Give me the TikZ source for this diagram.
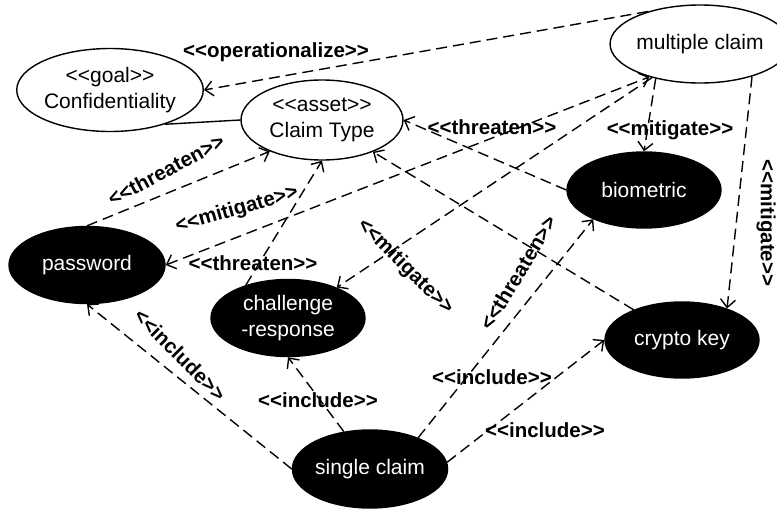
\documentclass[tikz,border=0pt]{standalone}
\usepackage{fontspec}
\setmainfont{Liberation Sans}
\usetikzlibrary{shapes.geometric,arrows.meta}
\newcommand\nodefont{\fontsize{21}{26}\selectfont}
\newcommand\lblfont{\bfseries\fontsize{20.5}{24}\selectfont}
\newcommand\lguil{<{}<}
\newcommand\rguil{>{}>}
\tikzset{vtip/.tip={Straight Barb[length=8pt,width=15pt,line width=1.4pt]}}
\begin{document}
\begin{tikzpicture}[x=1pt,y=-1pt,
  uc/.style={ellipse, draw, line width=1.4pt, inner sep=0pt, align=center, font=\nodefont},
  ucw/.style={uc, fill=white},
  ucb/.style={uc, fill=black, text=white},
  dep/.style={line width=1.4pt, dash pattern=on 11pt off 6pt, -{vtip}},
  depboth/.style={line width=1.4pt, dash pattern=on 11pt off 6pt, {vtip}-{vtip}},
  assoc/.style={line width=1.4pt},
  lbl/.style={font=\lblfont, inner sep=0pt}
]
\useasboundingbox (0,0) rectangle (777,509);

% use cases
\node[ucw, minimum width=166pt, minimum height=83pt] (conf) at (110,90) {\lguil goal\rguil\\Confidentiality};
\node[ucw, minimum width=162pt, minimum height=80pt] (ctype) at (322,120) {\lguil asset\rguil\\Claim Type};
\node[ucw, minimum width=156pt, minimum height=78pt] (mclaim) at (700,44) {multiple claim};
\node[ucb, minimum width=154pt, minimum height=76pt] (bio) at (644,190) {biometric};
\node[ucb, minimum width=156pt, minimum height=77pt] (pwd) at (87,265) {password};
\node[ucb, minimum width=154pt, minimum height=77pt] (chal) at (288,318) {challenge\\-response};
\node[ucb, minimum width=155pt, minimum height=78pt] (single) at (370,469) {single claim};
\node[ucb, minimum width=154pt, minimum height=76pt] (crypto) at (682,340) {crypto key};

% relations
\draw[dep] (mclaim.148) -- (conf.0);
\draw[assoc] (conf.-32) -- (ctype.180);
\draw[dep] (pwd.90) -- (ctype.211);
\draw[depboth] (pwd.0) -- (mclaim.213);
\draw[dep] (chal.142) -- (ctype.270);
\draw[dep] (bio.180) -- (ctype.0);
\draw[dep] (mclaim.218) -- (bio.90);
\draw[dep] (mclaim.328) -- (crypto.35);
\draw[dep] (crypto.148) -- (ctype.-32);
\draw[dep] (mclaim.215) -- (chal.32);
\draw[dep] (single.180) -- (pwd.270);
\draw[dep] (single.125) -- (chal.270);
\draw[dep] (single.33) -- (bio.210);
\draw[dep] (single.5) -- (crypto.180);

% stereotypes on the relations
\node[lbl] (l-op) at (276,52) {\lguil operationalize\rguil};
\node[lbl, rotate=28] (l-thr1) at (166,170) {\lguil threaten\rguil};
\node[lbl, rotate=16] (l-mit1) at (237,210) {\lguil mitigate\rguil};
\node[lbl] (l-thr2) at (253,263) {\lguil threaten\rguil};
\node[lbl] (l-thr3) at (492,127) {\lguil threaten\rguil};
\node[lbl] (l-mit2) at (670,130) {\lguil mitigate\rguil};
\node[lbl, rotate=-90] (l-mit3) at (766,223) {\lguil mitigate\rguil};
\node[lbl, rotate=59] (l-thr4) at (518,273) {\lguil threaten\rguil};
\node[lbl, rotate=-45] (l-mit4) at (405,267) {\lguil mitigate\rguil};
\node[lbl, rotate=-45] (l-inc1) at (180,355) {\lguil include\rguil};
\node[lbl] (l-inc2) at (318,400) {\lguil include\rguil};
\node[lbl] (l-inc3) at (492,377) {\lguil include\rguil};
\node[lbl] (l-inc4) at (545,430) {\lguil include\rguil};
\end{tikzpicture}
\end{document}
